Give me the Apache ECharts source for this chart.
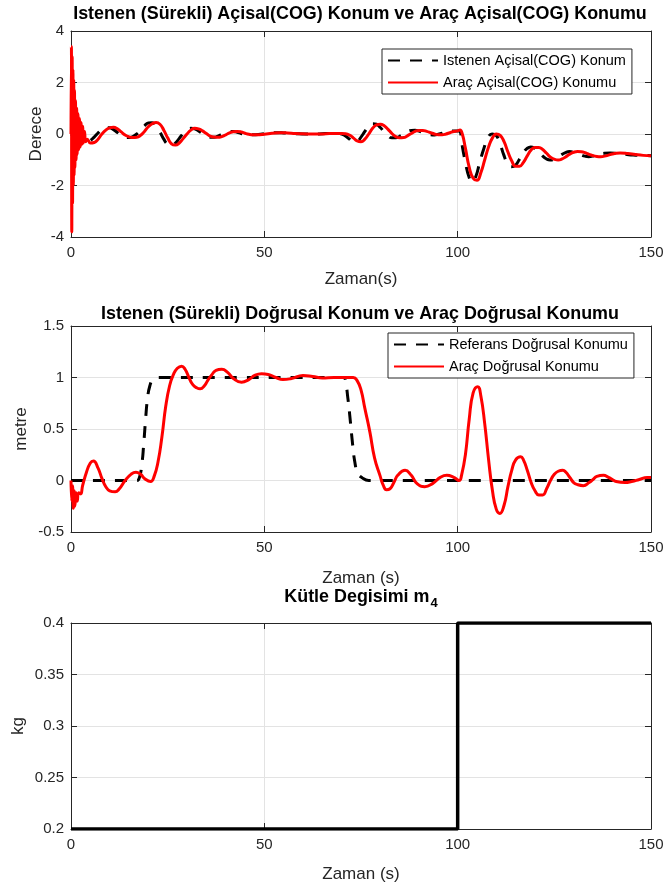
<!DOCTYPE html>
<html>
<head>
<meta charset="utf-8">
<script src="https://cdn.jsdelivr.net/npm/echarts@6/dist/echarts.min.js"></script>
<style>
  html, body { margin: 0; padding: 0; background: #fff; }
  #grafik { width: 665px; height: 884px; }
</style>
</head>
<body>
<div id="grafik"></div>
<script>
// Açısal (COG) konum, derece: istenen ve araç
const aciIstenen = [
  [0,0],[1,-0.1],[2,-0.2],[3,-0.28],[4,-0.3],[5,-0.25],[6,-0.12],[7,0.04],[8,0.17],[9,0.24],[10,0.24],
  [11,0.17],[12,0.06],[13,-0.05],[14,-0.12],[15,-0.14],[16,-0.1],[17,0],[18,0.15],[19,0.32],[20,0.43],
  [21,0.44],[22,0.32],[23,0.08],[24,-0.2],[25,-0.4],[26,-0.45],[27,-0.35],[28,-0.17],[29,0.02],[30,0.16],
  [31,0.22],[32,0.2],[33,0.12],[34,0.02],[35,-0.08],[36,-0.13],[37,-0.13],[38,-0.08],[39,-0.01],[40,0.06],
  [41,0.1],[42,0.1],[43,0.07],[44,0.02],[45,-0.02],[46,-0.03],[47,-0.03],[49,-0.01],[51,0.03],[53,0.05],
  [55,0.04],[57,0.02],[59,0.01],[61,0],[63,0],[65,0.01],[67,0.02],[69,0.02],[70,0],[71,-0.08],
  [72,-0.2],[73,-0.3],[74,-0.28],[75,-0.12],[76,0.1],[77,0.3],[78,0.4],[79,0.38],[80,0.25],[81,0.08],
  [82,-0.07],[83,-0.15],[84,-0.15],[85,-0.09],[86,0],[87,0.09],[88,0.14],[89,0.15],[90,0.11],[91,0.06],
  [92,0],[93,-0.03],[94,-0.04],[95,-0.01],[96,0.03],[97,0.08],[98,0.11],[99,0.12],[100,0.12],[100.6,0.1],
  [101,-0.3],[102,-1.1],[103,-1.7],[103.8,-1.86],[104.7,-1.65],[105.7,-1.1],[106.8,-0.55],[107.8,-0.15],
  [108.9,0],[109.9,-0.05],[110.9,-0.35],[111.9,-0.8],[112.9,-1.15],[113.9,-1.27],[114.9,-1.22],
  [115.9,-1.0],[116.9,-0.75],[117.9,-0.57],[118.9,-0.5],[119.9,-0.55],[120.9,-0.68],[121.9,-0.84],
  [122.9,-0.96],[123.9,-1.01],[124.9,-0.98],[125.9,-0.9],[126.9,-0.8],[127.9,-0.72],[128.9,-0.68],
  [129.9,-0.7],[130.9,-0.75],[131.9,-0.81],[132.9,-0.86],[133.9,-0.88],[134.9,-0.86],[135.9,-0.82],
  [136.9,-0.78],[137.9,-0.75],[139.4,-0.74],[141.4,-0.76],[143.4,-0.79],[145.4,-0.82],[147.4,-0.83],[150,-0.84]
];
const aciArac = [
  [0,0],[0.1,3.4],[0.2,-3.8],[0.3,3.0],[0.4,-2.7],[0.5,2.5],[0.6,-2.0],[0.7,2.1],[0.8,-1.6],[0.9,1.7],
  [1.0,-1.3],[1.15,1.3],[1.3,-1.0],[1.45,1.0],[1.6,-0.8],[1.8,0.8],[2.0,-0.6],[2.2,0.6],[2.4,-0.5],
  [2.6,0.45],[2.8,-0.4],[3.0,0.3],[3.2,-0.35],[3.5,0.1],[3.8,-0.3],[4.2,-0.2],[5,-0.35],[6,-0.33],
  [7,-0.2],[8,0],[9,0.15],[10,0.24],[11,0.26],[12,0.2],[13,0.08],[14,-0.04],[15,-0.11],[16,-0.14],
  [17,-0.13],[18,-0.05],[19,0.1],[20,0.28],[21,0.4],[22,0.45],[23,0.38],[24,0.15],[25,-0.15],[26,-0.38],
  [27,-0.43],[28,-0.35],[29,-0.18],[30,0],[31,0.15],[32,0.22],[33,0.2],[34,0.12],[35,0.02],[36,-0.08],
  [37,-0.12],[38,-0.13],[39,-0.1],[40,-0.03],[41,0.04],[42,0.09],[43,0.1],[44,0.08],[45,0.03],[46,-0.01],
  [47,-0.03],[48,-0.03],[50,-0.01],[52,0.03],[54,0.05],[56,0.04],[58,0.02],[60,0.01],[62,0],[64,0],
  [66,0.01],[68,0.02],[70,0.02],[71,0.01],[72,-0.04],[73,-0.15],[74,-0.27],[75,-0.3],[76,-0.2],[77,0],
  [78,0.22],[79,0.35],[80,0.38],[81,0.32],[82,0.18],[83,0.02],[84,-0.1],[85,-0.15],[86,-0.14],[87,-0.07],
  [88,0.02],[89,0.1],[90,0.14],[91,0.14],[92,0.1],[93,0.05],[94,0],[95,-0.03],[96,-0.03],[97,0],
  [98,0.05],[99,0.1],[100,0.12],[100.6,0.16],[101.2,0],[102,-0.55],[103,-1.3],[104,-1.72],[105,-1.8],
  [106,-1.5],[107,-1.0],[108,-0.5],[109,-0.15],[110,0],[111,-0.05],[112,-0.3],[113,-0.7],[114,-1.05],
  [115,-1.25],[116,-1.25],[117,-1.1],[118,-0.85],[119,-0.62],[120,-0.52],[121,-0.52],[122,-0.6],
  [123,-0.75],[124,-0.9],[125,-0.98],[126,-1.01],[127,-0.97],[128,-0.88],[129,-0.78],[130,-0.71],
  [131,-0.68],[132,-0.69],[133,-0.73],[134,-0.79],[135,-0.84],[136,-0.87],[137,-0.88],[138,-0.86],
  [139,-0.82],[140,-0.78],[141,-0.75],[142,-0.74],[144,-0.76],[146,-0.8],[148,-0.83],[150,-0.84]
];

// Doğrusal konum, metre: referans ve araç
const dogrusalReferans = [
  [0,0],[17,0],[17.7,0.03],[18.3,0.15],[18.8,0.35],[19.3,0.6],[19.8,0.8],[20.4,0.92],[21.2,0.98],
  [22.5,1.0],[70.5,1.0],[71,0.96],[71.6,0.8],[72.1,0.63],[72.7,0.4],[73.4,0.18],[74.2,0.07],
  [75.2,0.03],[77,0],[150,0]
];
const dogrusalArac = [
  [0,0],[0.2,-0.2],[0.4,-0.05],[0.6,-0.27],[0.8,-0.1],[1.0,-0.25],[1.3,-0.12],[1.6,-0.2],[2,-0.12],
  [2.5,-0.13],[3,-0.05],[4,0.08],[5,0.17],[5.8,0.19],[7,0.12],[8,0.02],[9,-0.06],[10,-0.1],[11.4,-0.11],
  [12.5,-0.08],[14,0],[15.5,0.06],[16.8,0.08],[18,0.06],[19,0.02],[20.6,-0.01],[21.5,0.04],[22.5,0.18],
  [23.5,0.42],[24.5,0.72],[25.5,0.92],[26.5,1.03],[27.5,1.09],[28.6,1.11],[29.5,1.08],[30.5,1.0],
  [31.5,0.93],[32.5,0.9],[33.4,0.89],[34.5,0.92],[35.5,0.98],[36.5,1.03],[37.5,1.07],[39,1.08],
  [40.5,1.05],[42,0.99],[44.1,0.955],[46,0.98],[47.5,1.02],[49.3,1.036],[51,1.03],[53,1.0],[54.8,0.98],
  [57,0.99],[60,1.02],[62.5,1.01],[65,0.995],[68,1.0],[71,1.0],[73,1.0],[74,0.97],[75,0.88],[76,0.7],
  [77.3,0.47],[78.5,0.22],[79.9,0.05],[80.8,-0.05],[81.6,-0.09],[82.5,-0.08],[83.5,-0.02],[84.5,0.05],
  [86.4,0.1],[88,0.05],[89.5,-0.03],[91.5,-0.06],[93.5,-0.03],[95.5,0.03],[97.2,0.05],[99,0.03],
  [100.4,0],[101,0.05],[102,0.25],[103,0.6],[104,0.85],[105.2,0.91],[106,0.82],[107,0.55],[108,0.2],
  [109,-0.1],[110,-0.28],[110.9,-0.32],[112,-0.24],[113,-0.06],[114,0.1],[115,0.2],[116.3,0.23],
  [117,0.2],[118,0.1],[119,-0.02],[120,-0.1],[121,-0.14],[122,-0.14],[123,-0.08],[124,0],[125,0.06],
  [126,0.09],[127.2,0.1],[128,0.08],[129,0.03],[130,-0.02],[131,-0.04],[132.5,-0.05],[134,-0.02],
  [135,0.01],[136,0.04],[137.7,0.05],[139,0.03],[140,0.01],[141,-0.01],[143.3,-0.02],[145,-0.01],
  [147,0.01],[149,0.03],[150,0.03]
];

// Kütle değişimi m4, kg
const kutle = [[0,0.2],[100,0.2],[100,0.4],[150,0.4]];

// Eksen aralıkları [min, max, adım]
const zamanAralik = [0, 150, 50];
const aciAralik = [-4, 4, 2];
const dogrusalAralik = [-0.5, 1.5, 0.5];
const kutleAralik = [0.2, 0.4, 0.05];

const yazi = "'Liberation Sans', Arial, Helvetica, sans-serif";
const eksenRenk = '#262626';
const izgaraRenk = '#e3e3e3';
const kesikCizgi = [12, 10];

function xAlt(g, ad, bosluk) {
  return {
    type: 'value', gridIndex: g, position: 'bottom',
    min: zamanAralik[0], max: zamanAralik[1], interval: zamanAralik[2],
    name: ad, nameLocation: 'middle', nameGap: bosluk, nameMoveOverlap: false,
    nameTextStyle: { fontSize: 17, color: eksenRenk, fontFamily: yazi },
    axisLine: { onZero: false, lineStyle: { color: eksenRenk, width: 1 } },
    axisTick: { inside: true, length: 6, lineStyle: { color: eksenRenk } },
    axisLabel: { fontSize: 15, color: eksenRenk, margin: 8, fontFamily: yazi },
    splitLine: { show: true, lineStyle: { color: izgaraRenk, width: 1 } }
  };
}
function xUst(g) {
  return {
    type: 'value', gridIndex: g, position: 'top',
    min: zamanAralik[0], max: zamanAralik[1], interval: zamanAralik[2],
    axisLine: { onZero: false, lineStyle: { color: eksenRenk, width: 1 } },
    axisTick: { inside: true, length: 6, lineStyle: { color: eksenRenk } },
    axisLabel: { show: false }, splitLine: { show: false }
  };
}
function ySol(g, aralik, ad, bosluk) {
  return {
    type: 'value', gridIndex: g, position: 'left',
    min: aralik[0], max: aralik[1], interval: aralik[2],
    name: ad, nameLocation: 'middle', nameGap: bosluk, nameMoveOverlap: false,
    nameTextStyle: { fontSize: 17, color: eksenRenk, fontFamily: yazi },
    axisLine: { onZero: false, lineStyle: { color: eksenRenk, width: 1 } },
    axisTick: { inside: true, length: 6, lineStyle: { color: eksenRenk } },
    axisLabel: { fontSize: 15, color: eksenRenk, margin: 7, fontFamily: yazi },
    splitLine: { show: true, lineStyle: { color: izgaraRenk, width: 1 } }
  };
}
function ySag(g, aralik) {
  return {
    type: 'value', gridIndex: g, position: 'right',
    min: aralik[0], max: aralik[1], interval: aralik[2],
    axisLine: { onZero: false, lineStyle: { color: eksenRenk, width: 1 } },
    axisTick: { inside: true, length: 6, lineStyle: { color: eksenRenk } },
    axisLabel: { show: false }, splitLine: { show: false }
  };
}
function baslik(metin, ust) {
  return {
    text: metin, left: 360, top: ust, textAlign: 'center', padding: 0,
    textStyle: { fontSize: 17.9, fontWeight: 'bold', color: '#000', fontFamily: yazi }
  };
}
function lejant(adlar, sol, ust) {
  return {
    data: adlar, orient: 'vertical', left: sol, top: ust,
    itemWidth: 50, itemHeight: 14, itemGap: 7, selectedMode: false,
    padding: [4, 6, 4, 5], borderColor: eksenRenk, borderWidth: 1, borderRadius: 0,
    backgroundColor: '#fff',
    // yalnızca çizgi örneği, işaretçi yok
    itemStyle: { color: 'rgba(0,0,0,0)', borderWidth: 0, opacity: 0 },
    textStyle: { fontSize: 14.5, color: '#000', fontFamily: yazi }
  };
}
function cizgi(ad, veri, x, y, renk, tip, kalinlik) {
  return {
    name: ad, type: 'line', xAxisIndex: x, yAxisIndex: y, data: veri,
    showSymbol: false, symbol: 'none', smooth: 0.5,
    lineStyle: { color: renk, width: kalinlik, type: tip },
    itemStyle: { color: renk }, animation: false, silent: true
  };
}

const grafik = echarts.init(document.getElementById('grafik'), null, { renderer: 'canvas' });
grafik.setOption({
  animation: false,
  backgroundColor: '#fff',
  textStyle: { fontFamily: yazi },
  title: [
    baslik('Istenen (Sürekli) Açisal(COG) Konum ve Araç Açisal(COG) Konumu', 5),
    baslik('Istenen (Sürekli) Doğrusal Konum ve Araç Doğrusal Konumu', 305),
    {
      text: '{a|Kütle Degisimi m}{s|4}', left: 361, top: 588, textAlign: 'center', padding: 0,
      textStyle: {
        fontFamily: yazi,
        rich: {
          a: { fontSize: 17.9, fontWeight: 'bold', color: '#000', fontFamily: yazi, verticalAlign: 'top' },
          s: { fontSize: 13, fontWeight: 'bold', color: '#000', fontFamily: yazi, verticalAlign: 'top', padding: [9, 0, 0, 1] }
        }
      }
    }
  ],
  legend: [
    lejant(['Istenen Açisal(COG) Konum', 'Araç Açisal(COG) Konumu'], 382, 49),
    lejant(['Referans Doğrusal Konumu', 'Araç Doğrusal Konumu'], 388, 333)
  ],
  grid: [
    { left: 71, top: 31, width: 580, height: 206, outerBoundsMode: 'none', containLabel: false },
    { left: 71, top: 326, width: 580, height: 206, outerBoundsMode: 'none', containLabel: false },
    { left: 71, top: 623, width: 580, height: 206, outerBoundsMode: 'none', containLabel: false }
  ],
  xAxis: [
    xAlt(0, 'Zaman(s)', 34), xUst(0),
    xAlt(1, 'Zaman (s)', 38), xUst(1),
    xAlt(2, 'Zaman (s)', 37), xUst(2)
  ],
  yAxis: [
    ySol(0, aciAralik, 'Derece', 26), ySag(0, aciAralik),
    ySol(1, dogrusalAralik, 'metre', 41), ySag(1, dogrusalAralik),
    ySol(2, kutleAralik, 'kg', 44), ySag(2, kutleAralik)
  ],
  series: [
    cizgi('Istenen Açisal(COG) Konum', aciIstenen, 0, 0, '#000', kesikCizgi, 3),
    cizgi('Araç Açisal(COG) Konumu', aciArac, 0, 0, '#ff0000', 'solid', 3),
    cizgi('Referans Doğrusal Konumu', dogrusalReferans, 2, 2, '#000', kesikCizgi, 3),
    cizgi('Araç Doğrusal Konumu', dogrusalArac, 2, 2, '#ff0000', 'solid', 3),
    Object.assign(cizgi('Kütle', kutle, 4, 4, '#000', 'solid', 3.5), { smooth: false })
  ]
});
</script>
</body>
</html>
